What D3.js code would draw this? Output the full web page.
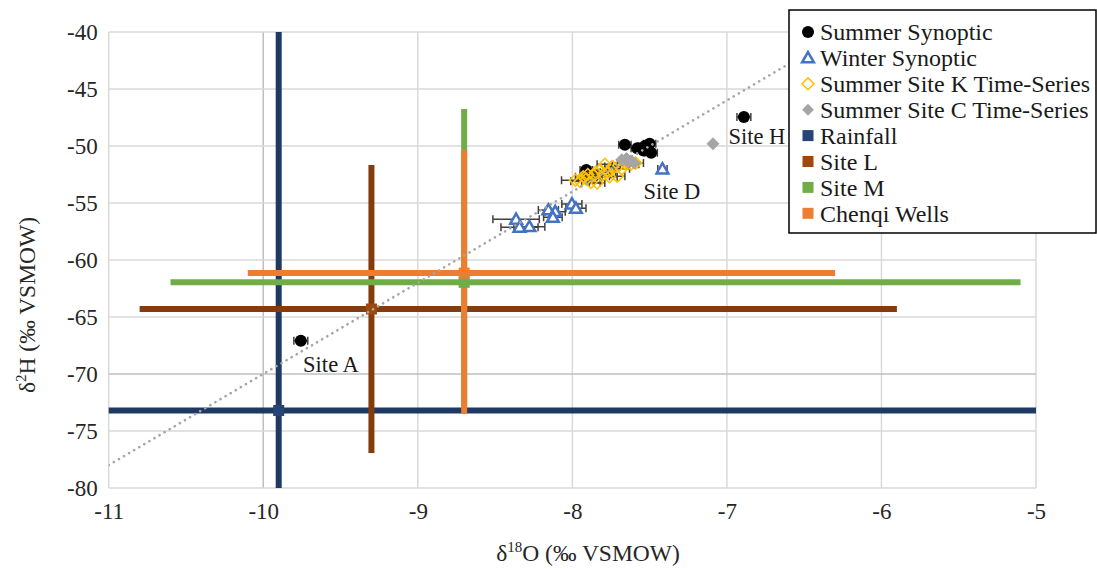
<!DOCTYPE html>
<html><head><meta charset="utf-8">
<script src="https://cdn.jsdelivr.net/npm/d3@7"></script>
<style>
body{margin:0;background:#fff}svg{display:block}
svg text{font-family:"Liberation Serif","Tinos","Times New Roman",Times,"DejaVu Serif","Noto Serif",serif;}
</style>
</head><body>
<svg id="c" width="1097" height="569"></svg>
<script>
const xTicks = [-11, -10, -9, -8, -7, -6, -5];
const yTicks = [-40, -45, -50, -55, -60, -65, -70, -75, -80];

// [δ18O, δ2H, δ18O error]
const summerSynoptic = [
  [-9.757, -67.08, 0.045], [-7.91, -52.1, 0.04], [-7.86, -52.6, 0.04],
  [-7.66, -49.9, 0.04], [-7.58, -50.2, 0.04], [-7.53, -50.0, 0.04],
  [-7.50, -49.8, 0.04], [-7.49, -50.6, 0.04], [-7.54, -50.4, 0.04],
  [-6.89, -47.45, 0.045]
];
const winterSynoptic = [
  [-8.364, -56.43, 0.15], [-8.342, -57.13, 0.12], [-8.278, -57.08, 0.1],
  [-8.155, -55.61, 0.065], [-8.111, -55.76, 0.065], [-8.126, -56.26, 0.06],
  [-8.003, -55.09, 0.065], [-7.977, -55.47, 0.065], [-7.417, -52.02, 0.03]
];
const siteKSeries = [
  [-7.98, -53.0, 0.09], [-7.95, -53.1, 0.06], [-7.93, -52.7, 0.05], [-7.91, -52.9, 0.05],
  [-7.90, -52.5, 0.05], [-7.88, -53.2, 0.06], [-7.86, -52.6, 0.05], [-7.85, -52.3, 0.05],
  [-7.84, -53.25, 0.05], [-7.82, -52.1, 0.05], [-7.80, -52.5, 0.05], [-7.79, -51.6, 0.05],
  [-7.77, -52.3, 0.05], [-7.76, -52.7, 0.05], [-7.74, -51.8, 0.05], [-7.71, -52.65, 0.05],
  [-7.70, -51.7, 0.05], [-7.68, -52.0, 0.05], [-7.66, -51.5, 0.05], [-7.62, -51.6, 0.05],
  [-7.59, -51.5, 0.05]
];
const siteCSeries = [
  [-7.68, -51.2], [-7.65, -51.1], [-7.62, -51.3], [-7.60, -51.5], [-7.64, -51.4], [-7.09, -49.8]
];
// [δ18O, δ2H, x minus, x plus, y minus, y plus]
const rainfall = [[-9.90, -73.2, 1.5, 6.5, 8, 35]];
const siteL = [[-9.30, -64.3, 1.5, 3.4, 12.63, 12.63]];
const siteM = [[-8.70, -61.96, 1.9, 3.6, 11, 15.2]];
const chenqiWells = [[-8.70, -61.15, 1.4, 2.4, 12.35, 10.8]];
// meteoric water line: δ2H = slope·δ18O + intercept
const mwlSlope = 8, mwlIntercept = 10;
const siteLabels = [["Site A", -9.742, -69.8], ["Site D", -7.54, -54.65], ["Site H", -6.99, -49.8]];
const legendNames = ["Summer Synoptic", "Winter Synoptic", "Summer Site K Time-Series",
  "Summer Site C Time-Series", "Rainfall", "Site L", "Site M", "Chenqi Wells"];

const svg = d3.select("#c");
const L = 108.7, R = 1036, T = 32, B = 488;
const x = d3.scaleLinear().domain([-11, -5]).range([L, R]);
const y = d3.scaleLinear().domain([-80, -40]).range([B, T]);

svg.append("defs").append("clipPath").attr("id", "clip")
  .append("rect").attr("x", L).attr("y", T).attr("width", R - L).attr("height", B - T);

const g = svg.append("g");
g.selectAll(".vg").data(xTicks).join("line")
  .attr("x1", d => x(d)).attr("x2", d => x(d)).attr("y1", T).attr("y2", B)
  .attr("stroke", d => d === -10 ? "#bfbfbf" : "#d9d9d9").attr("stroke-width", 1.5);
g.selectAll(".hg").data(yTicks).join("line")
  .attr("y1", d => y(d)).attr("y2", d => y(d)).attr("x1", L).attr("x2", R)
  .attr("stroke", d => d === -70 ? "#bfbfbf" : "#d9d9d9").attr("stroke-width", 1.5);

const xAxis = svg.append("g").attr("transform", `translate(0,${B})`)
  .call(d3.axisBottom(x).tickValues(xTicks).tickSize(0).tickPadding(15).tickFormat(d3.format("d")));
const yAxis = svg.append("g").attr("transform", `translate(${L},0)`)
  .call(d3.axisLeft(y).tickValues(yTicks).tickSize(0).tickPadding(11).tickFormat(d3.format("d")));
[xAxis, yAxis].forEach(a => {
  a.select(".domain").remove();
  a.attr("font-family", null).attr("font-size", null);
  a.selectAll("text").attr("font-size", 23).attr("fill", "#262626")
    .text(d => d < 0 ? "-" + Math.abs(d) : d);
});

const plot = svg.append("g").attr("clip-path", "url(#clip)");
const ebColor = "#404040";

function smallErr(data) {
  const gg = plot.append("g").attr("stroke", ebColor).attr("stroke-width", 1.5);
  data.forEach(d => {
    if (d[2] === undefined) return;
    const x1 = x(d[0] - d[2]), x2 = x(d[0] + d[2]), yy = y(d[1]);
    gg.append("line").attr("x1", x1).attr("x2", x2).attr("y1", yy).attr("y2", yy);
    gg.append("line").attr("x1", x1).attr("x2", x1).attr("y1", yy - 4).attr("y2", yy + 4);
    gg.append("line").attr("x1", x2).attr("x2", x2).attr("y1", yy - 4).attr("y2", yy + 4);
  });
}
smallErr(summerSynoptic);
plot.append("g").selectAll("circle").data(summerSynoptic).join("circle")
  .attr("cx", d => x(d[0])).attr("cy", d => y(d[1])).attr("r", 6).attr("fill", "#000");
smallErr(winterSynoptic);
const tri = d3.symbol().type(d3.symbolTriangle).size(60);
plot.append("g").selectAll("path").data(winterSynoptic).join("path")
  .attr("d", tri).attr("transform", d => `translate(${x(d[0])},${y(d[1]) + 1})`)
  .attr("fill", "#fff").attr("stroke", "#4472C4").attr("stroke-width", 2.5);
smallErr(siteKSeries);
const dia = d3.symbol().type(d3.symbolDiamond2).size(90);
plot.append("g").selectAll("path").data(siteKSeries).join("path")
  .attr("d", dia).attr("transform", d => `translate(${x(d[0])},${y(d[1])})`)
  .attr("fill", "none").attr("stroke", "#FFC000").attr("stroke-width", 1.6);
plot.append("g").selectAll("path").data(siteCSeries).join("path")
  .attr("d", dia).attr("transform", d => `translate(${x(d[0])},${y(d[1])})`)
  .attr("fill", "#A5A5A5").attr("stroke", "#A5A5A5").attr("stroke-width", 1);

const big = [
  [rainfall, "#1F3864", "#264478"],
  [siteL, "#843C0C", "#9E480E"],
  [siteM, "#70AD47", "#70AD47"],
  [chenqiWells, "#ED7D31", "#ED7D31"]
];
big.forEach(([data, col]) => {
  data.forEach(d => {
    plot.append("line").attr("x1", x(d[0] - d[2])).attr("x2", x(d[0] + d[3]))
      .attr("y1", y(d[1])).attr("y2", y(d[1])).attr("stroke", col).attr("stroke-width", 6);
    plot.append("line").attr("x1", x(d[0])).attr("x2", x(d[0]))
      .attr("y1", y(d[1] - d[4])).attr("y2", y(d[1] + d[5])).attr("stroke", col).attr("stroke-width", 6);
  });
});
big.forEach(([data, col, mcol]) => {
  plot.append("g").selectAll("rect").data(data).join("rect")
    .attr("x", d => x(d[0]) - 5.5).attr("y", d => y(d[1]) - 5.5).attr("width", 11).attr("height", 11)
    .attr("fill", mcol);
});

plot.append("line").attr("x1", x(-11)).attr("y1", y(mwlSlope * -11 + mwlIntercept))
  .attr("x2", x(-5)).attr("y2", y(mwlSlope * -5 + mwlIntercept))
  .attr("stroke", "#a6a6a6").attr("stroke-width", 2.6).attr("stroke-linecap", "round")
  .attr("stroke-dasharray", "0.1,5.8");

svg.append("g").selectAll("text").data(siteLabels).join("text")
  .attr("x", d => x(d[1])).attr("y", d => y(d[2])).text(d => d[0])
  .attr("font-size", 22.5).attr("fill", "#1a1a1a");

const yt = svg.append("text").attr("transform", "translate(35,305) rotate(-90)")
  .attr("text-anchor", "middle").attr("font-size", 23.5).attr("fill", "#262626");
yt.append("tspan").text("δ");
yt.append("tspan").text("2").attr("font-size", 15).attr("dy", -9);
yt.append("tspan").text("H (‰ VSMOW)").attr("dy", 9);
const xt = svg.append("text").attr("x", 588).attr("y", 561)
  .attr("text-anchor", "middle").attr("font-size", 23.5).attr("fill", "#262626");
xt.append("tspan").text("δ");
xt.append("tspan").text("18").attr("font-size", 15).attr("dy", -9);
xt.append("tspan").text("O (‰ VSMOW)").attr("dy", 9);

const lg = svg.append("g");
lg.append("rect").attr("x", 789).attr("y", 10).attr("width", 307).attr("height", 223)
  .attr("fill", "#fff").attr("stroke", "#000").attr("stroke-width", 1.5);
const rowY = i => 32 + i * 25.9;
legendNames.forEach((name, i) => {
  const cy = rowY(i), cx = 808;
  if (i === 0) lg.append("circle").attr("cx", cx).attr("cy", cy).attr("r", 6).attr("fill", "#000");
  else if (i === 1) lg.append("path").attr("d", tri).attr("transform", `translate(${cx},${cy + 1})`)
    .attr("fill", "#fff").attr("stroke", "#4472C4").attr("stroke-width", 2.5);
  else if (i === 2) lg.append("path").attr("d", dia).attr("transform", `translate(${cx},${cy})`)
    .attr("fill", "#fff").attr("stroke", "#FFC000").attr("stroke-width", 1.6);
  else if (i === 3) lg.append("path").attr("d", dia).attr("transform", `translate(${cx},${cy})`)
    .attr("fill", "#A5A5A5");
  else lg.append("rect").attr("x", cx - 5.5).attr("y", cy - 5.5).attr("width", 11).attr("height", 11)
    .attr("fill", big[i - 4][2]);
  lg.append("text").attr("x", 820).attr("y", cy).attr("dy", "0.35em").text(name)
    .attr("font-size", 24).attr("fill", "#1a1a1a");
});
</script>
</body></html>
